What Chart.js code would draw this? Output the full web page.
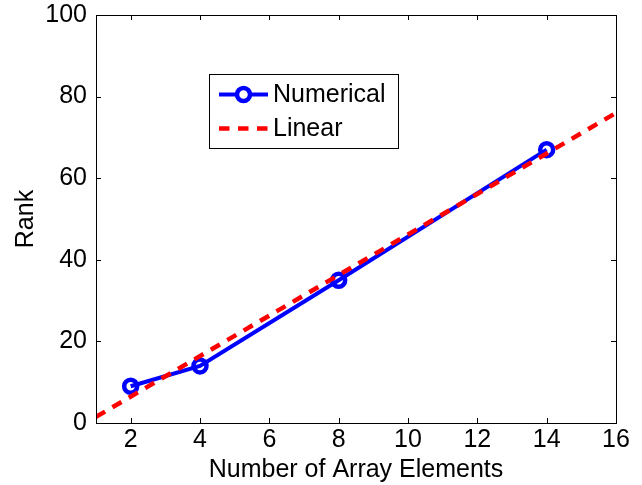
<!DOCTYPE html>
<html>
<head>
<meta charset="utf-8">
<script src="https://cdn.jsdelivr.net/npm/chart.js@4/dist/chart.umd.min.js"></script>
<style>
  html, body { margin: 0; padding: 0; background: #fff; }
  canvas { display: block; }
</style>
</head>
<body>
<canvas id="rankChart" width="642" height="485"></canvas>
<script>
// data
const arrayElements = [2, 4, 8, 14];
const numericalRank = [9, 14, 35, 67];
const linearX = [1, 16];
const linearRank = [1.5, 76];
const xTickValues = [2, 4, 6, 8, 10, 12, 14, 16];
const yTickValues = [0, 20, 40, 60, 80, 100];

const FONT = "'Liberation Sans', Arial, Helvetica, sans-serif";
Chart.defaults.font.family = FONT;
Chart.defaults.color = '#000';

const toPoints = (xs, ys) => xs.map((x, i) => ({ x: x, y: ys[i] }));

// matlab style box with inward ticks on all four sides
const boxPlugin = {
    id: 'boxPlugin',
    afterDraw(chart) {
        const { ctx, chartArea: a, scales } = chart;
        const tl = 5;
        ctx.save();
        ctx.strokeStyle = '#000';
        ctx.lineWidth = 1;
        ctx.strokeRect(Math.round(a.left) + 0.5, Math.round(a.top) + 0.5,
            Math.round(a.right - a.left), Math.round(a.bottom - a.top));
        ctx.beginPath();
        xTickValues.forEach(v => {
            const px = Math.round(scales.x.getPixelForValue(v)) + 0.5;
            ctx.moveTo(px, a.bottom); ctx.lineTo(px, a.bottom - tl);
            ctx.moveTo(px, a.top); ctx.lineTo(px, a.top + tl);
        });
        yTickValues.forEach(v => {
            const py = Math.round(scales.y.getPixelForValue(v)) + 0.5;
            ctx.moveTo(a.left, py); ctx.lineTo(a.left + tl, py);
            ctx.moveTo(a.right, py); ctx.lineTo(a.right - tl, py);
        });
        ctx.stroke();
        ctx.restore();
    }
};

// legend box inside the plot
const legendPlugin = {
    id: 'legendPlugin',
    afterDraw(chart) {
        const ctx = chart.ctx;
        const bx = 209, by = 74, bw = 189, bh = 74;
        const rows = [94.5, 128.5];
        ctx.save();
        ctx.fillStyle = '#fff';
        ctx.fillRect(bx, by, bw, bh);
        ctx.strokeStyle = '#000';
        ctx.lineWidth = 1;
        ctx.strokeRect(bx + 0.5, by + 0.5, bw, bh);
        chart.data.datasets.forEach((ds, i) => {
            const y = rows[i];
            ctx.strokeStyle = ds.borderColor;
            ctx.lineWidth = ds.borderWidth;
            ctx.setLineDash(ds.borderDash || []);
            ctx.beginPath();
            ctx.moveTo(219, y);
            ctx.lineTo(268, y);
            ctx.stroke();
            ctx.setLineDash([]);
            if (ds.pointRadius > 0) {
                ctx.lineWidth = ds.pointBorderWidth;
                ctx.beginPath();
                ctx.arc(243.5, y, ds.pointRadius, 0, Math.PI * 2);
                ctx.fillStyle = '#fff';
                ctx.fill();
                ctx.stroke();
            }
            ctx.fillStyle = '#000';
            ctx.font = '25px ' + FONT;
            ctx.textBaseline = 'middle';
            ctx.textAlign = 'left';
            ctx.fillText(ds.label, 273, y + 0.5);
        });
        ctx.restore();
    }
};

new Chart(document.getElementById('rankChart'), {
    type: 'line',
    data: {
        datasets: [{
            label: 'Numerical',
            data: toPoints(arrayElements, numericalRank),
            borderColor: '#0000ff',
            borderWidth: 4,
            pointRadius: 6.5,
            pointBorderWidth: 4.5,
            pointBorderColor: '#0000ff',
            pointBackgroundColor: 'rgba(0,0,0,0)',
            pointHoverRadius: 6.5,
            tension: 0,
            order: 1
        }, {
            label: 'Linear',
            data: toPoints(linearX, linearRank),
            borderColor: '#ff0000',
            borderWidth: 4.5,
            borderDash: [10.5, 8.5],
            pointRadius: 0,
            tension: 0,
            order: 0
        }]
    },
    options: {
        responsive: false,
        animation: false,
        devicePixelRatio: 1,
        layout: { padding: { left: 0, right: 26, top: 15, bottom: 0 } },
        plugins: {
            legend: { display: false },
            tooltip: { enabled: false }
        },
        scales: {
            x: {
                type: 'linear',
                min: 1,
                max: 16,
                afterBuildTicks: s => { s.ticks = xTickValues.map(v => ({ value: v })); },
                afterFit: s => { s.height = 62; s.paddingLeft = 0; s.paddingRight = 0; },
                grid: { display: false, drawTicks: false, tickLength: 0 },
                border: { display: false },
                ticks: { font: { size: 25, lineHeight: 1 }, padding: 5, maxRotation: 0, autoSkip: false },
                title: {
                    display: true,
                    text: 'Number of Array Elements',
                    font: { size: 25, lineHeight: 1 },
                    padding: { top: 0, bottom: 2 }
                }
            },
            y: {
                type: 'linear',
                min: 0,
                max: 100,
                afterBuildTicks: s => { s.ticks = yTickValues.map(v => ({ value: v })); },
                afterFit: s => { s.width = 96; s.paddingTop = 0; s.paddingBottom = 0; },
                grid: { display: false, drawTicks: false, tickLength: 0 },
                border: { display: false },
                ticks: { font: { size: 25, lineHeight: 1 }, padding: 9 },
                title: {
                    display: true,
                    text: 'Rank',
                    font: { size: 25, lineHeight: 1 },
                    padding: { top: 14, bottom: 0 }
                }
            }
        }
    },
    plugins: [boxPlugin, legendPlugin]
});
</script>
</body>
</html>
